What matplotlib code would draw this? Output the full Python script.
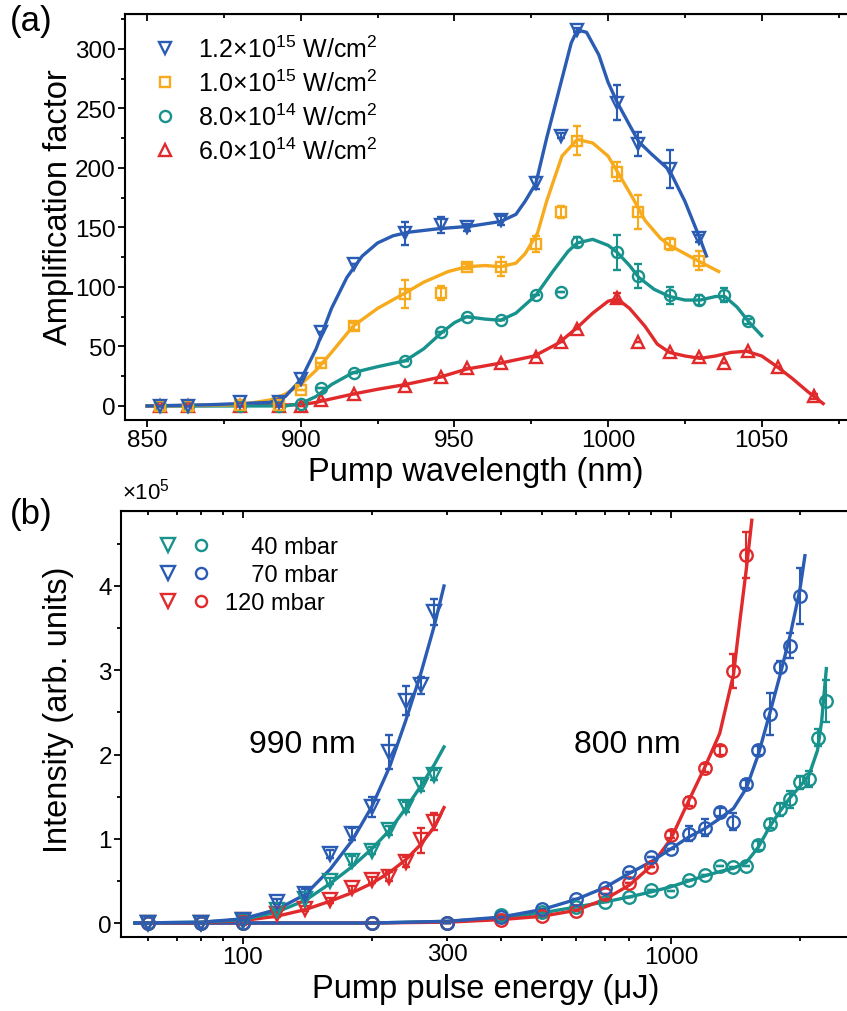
import numpy as np
import matplotlib
matplotlib.use("Agg")
import matplotlib.pyplot as plt
from matplotlib.ticker import MultipleLocator, FixedLocator, NullFormatter, FixedFormatter
from matplotlib.lines import Line2D
from matplotlib.legend_handler import HandlerTuple

plt.rcParams['font.family'] = ['Liberation Sans', 'DejaVu Sans']
plt.rcParams['mathtext.fontset'] = 'custom'
plt.rcParams['mathtext.rm'] = 'Liberation Sans'
plt.rcParams['mathtext.it'] = 'Liberation Sans:italic'
plt.rcParams['mathtext.default'] = 'regular'

BLUE = '#2b5cb3'
ORANGE = '#f6aa1c'
TEAL = '#17928d'
RED = '#e02a2b'

# ---------------- panel (a) data ----------------
wl_blue = [854.3, 863.3, 880.2, 893, 900, 906.6, 917.2, 934, 945.7, 954, 965, 976.5, 984.6, 990, 1003, 1009.7, 1020, 1029.6]
amp_blue = [0, 0, 3, 3, 23, 62, 119, 145, 152, 150, 156, 187, 227, 316, 255, 220, 199, 141]
err_blue = [0, 0, 0, 3, 0, 0, 0, 10, 7, 3, 4, 5, 2, 2, 15, 10, 16, 3]

wl_orange = [854.3, 863.3, 880.2, 893, 900, 906.6, 917.2, 934, 945.7, 954, 965, 976.5, 984.6, 990, 1003, 1009.7, 1020, 1029.6]
amp_orange = [0, 0, 1, 1, 13, 36, 67, 94, 95, 117, 117, 136, 163, 223, 197, 163, 136, 122]
err_orange = [0, 0, 0, 0, 0, 0, 3, 12, 6, 2, 8, 7, 5, 12, 8, 14, 5, 8]

wl_teal = [854.3, 863.3, 880.2, 893, 900, 906.6, 917.2, 934, 945.7, 954, 965, 976.5, 984.6, 990, 1003, 1009.7, 1020, 1029.6, 1037.8, 1045.4]
amp_teal = [0, 0, 0, 0, 2, 15, 28, 38, 62, 75, 72, 93, 96, 138, 129, 109, 93, 89, 93, 71]
err_teal = [0, 0, 0, 0, 0, 0, 0, 0, 0, 0, 0, 0, 0, 4, 15, 10, 7, 4, 6, 2]

wl_red = [854.3, 863.3, 880.2, 893, 900, 906.6, 917.2, 934, 945.7, 954, 965, 976.5, 984.6, 990, 1003, 1009.7, 1020, 1029.6, 1037.8, 1045.4, 1055.4, 1067]
amp_red = [0, 0, 0, 0, 0, 5, 10, 17, 24, 32, 36, 41, 54, 65, 91, 54, 45, 41, 36, 46, 33, 8]
err_red = [0, 0, 0, 0, 0, 0, 0, 0, 0, 0, 0, 0, 0, 0, 4, 0, 0, 0, 0, 0, 0, 2]

# fitted curves
fit_blue_x = [850, 870, 880, 890, 895, 900, 905, 910, 915, 920, 925, 930, 935, 945, 955, 965, 970, 973, 976.5, 980, 985, 988, 990, 993, 997, 1000, 1003, 1007, 1010, 1014, 1020, 1025, 1030, 1032]
fit_blue_y = [0, 1, 2, 3, 8, 22, 48, 82, 108, 126, 137, 143, 146, 149, 151, 155, 161, 172, 187, 225, 275, 305, 316, 314, 295, 272, 255, 236, 222, 212, 198, 172, 140, 126]
fit_orange_x = [850, 880, 890, 895, 900, 905, 910, 917, 925, 934, 940, 948, 954, 960, 965, 970, 973, 977, 980, 985, 990, 995, 1000, 1003, 1008, 1012, 1017, 1020, 1025, 1030, 1036]
fit_orange_y = [0, 1, 5, 10, 18, 30, 45, 67, 82, 95, 104, 113, 117, 118, 117, 120, 128, 145, 172, 210, 224, 221, 210, 197, 175, 156, 141, 135, 128, 121, 113]
fit_teal_x = [850, 895, 900, 905, 910, 917, 925, 934, 940, 946, 950, 954, 960, 965, 970, 976.5, 982, 987, 990, 995, 1000, 1003, 1007, 1010, 1015, 1020, 1025, 1030, 1035, 1038, 1042, 1046, 1050]
fit_teal_y = [0, 0, 2, 8, 18, 28, 33, 38, 48, 62, 70, 75, 73, 72, 78, 93, 113, 130, 137, 140, 135, 129, 118, 108, 98, 92, 89, 89, 92, 92, 83, 70, 59]
fit_red_x = [850, 900, 905, 910, 917, 925, 934, 945, 954, 965, 976, 984, 990, 995, 1000, 1003, 1007, 1012, 1016, 1020, 1025, 1030, 1035, 1040, 1045, 1050, 1055, 1060, 1065, 1070]
fit_red_y = [0, 1, 3, 6, 10, 14, 18, 24, 31, 36, 42, 53, 66, 78, 88, 90, 82, 67, 52, 45, 42, 40, 42, 45, 46, 42, 33, 23, 12, 2]

labels_a = [r'1.2×10$^{15}$ W/cm$^{2}$', r'1.0×10$^{15}$ W/cm$^{2}$',
            r'8.0×10$^{14}$ W/cm$^{2}$', r'6.0×10$^{14}$ W/cm$^{2}$']

# ---------------- panel (b) data (intensity in 1e5) ----------------
e990 = [60, 80, 100, 120, 140, 160, 180, 200, 220, 240, 260, 280]
i990_teal = [0, 0, 0.02, 0.15, 0.28, 0.5, 0.74, 0.86, 1.1, 1.38, 1.64, 1.76]
i990_blue = [0, 0, 0.03, 0.25, 0.35, 0.82, 1.06, 1.38, 2.03, 2.64, 2.82, 3.69]
i990_red = [0, 0, 0.03, 0.11, 0.17, 0.27, 0.41, 0.51, 0.55, 0.72, 0.98, 1.2]
d990_teal = [0, 0, 0, 0, 0.03, 0.04, 0.05, 0.04, 0.05, 0.06, 0.07, 0.06]
d990_blue = [0, 0, 0, 0.03, 0.05, 0.05, 0.07, 0.12, 0.2, 0.17, 0.1, 0.15]
d990_red = [0, 0, 0.05, 0.04, 0.03, 0.03, 0.03, 0.04, 0.05, 0.06, 0.15, 0.1]

e800 = [60, 80, 100, 200, 300, 400, 500, 600, 700, 800, 900, 1000, 1100, 1200, 1300, 1400, 1500, 1600, 1700, 1800, 1900, 2000, 2100, 2200, 2300]
i800_teal = [0, 0, 0, 0, 0, 0.09, 0.13, 0.19, 0.25, 0.31, 0.39, 0.38, 0.51, 0.57, 0.68, 0.67, 0.68, 0.92, 1.18, 1.35, 1.47, 1.67, 1.71, 2.2, 2.64]
i800_blue = [0, 0, 0, 0, 0, 0.07, 0.17, 0.29, 0.42, 0.61, 0.78, 0.88, 1.06, 1.13, 1.32, 1.2, 1.65, 2.05, 2.48, 3.04, 3.29, 3.88]
i800_red = [0, 0, 0, 0, 0, 0.04, 0.08, 0.14, 0.34, 0.47, 0.66, 1.05, 1.44, 1.84, 2.05, 2.99, 4.37]
d800_teal = [0, 0, 0, 0, 0, 0, 0, 0, 0, 0, 0, 0, 0, 0, 0, 0, 0, 0.05, 0.05, 0.08, 0.1, 0.08, 0.1, 0.1, 0.25]
d800_blue = [0, 0, 0, 0, 0, 0, 0, 0, 0, 0, 0, 0, 0.09, 0.1, 0.05, 0.1, 0.05, 0.05, 0.25, 0.07, 0.15, 0.33]
d800_red = [0, 0, 0, 0, 0, 0, 0, 0, 0, 0, 0, 0.04, 0.05, 0.05, 0.05, 0.2, 0.27]

fit990_x = [56, 80, 100, 120, 140, 160, 180, 200, 220, 240, 260, 280, 295]
fit990_blue = [0, 0.01, 0.05, 0.16, 0.34, 0.64, 0.98, 1.38, 1.85, 2.4, 2.95, 3.53, 4.0]
fit990_teal = [0, 0.01, 0.04, 0.13, 0.27, 0.47, 0.67, 0.88, 1.1, 1.36, 1.62, 1.88, 2.09]
fit990_red = [0, 0.005, 0.03, 0.08, 0.16, 0.26, 0.36, 0.47, 0.6, 0.75, 0.93, 1.14, 1.37]

fit800_blue_x = [56, 100, 200, 300, 400, 500, 600, 700, 800, 900, 1000, 1100, 1200, 1300, 1400, 1500, 1600, 1700, 1800, 1900, 2000, 2056]
fit800_blue_y = [0, 0, 0, 0.02, 0.07, 0.16, 0.28, 0.42, 0.59, 0.73, 0.88, 1.02, 1.12, 1.24, 1.36, 1.6, 2.0, 2.48, 2.95, 3.42, 3.95, 4.36]
fit800_red_x = [56, 100, 200, 300, 400, 500, 600, 700, 800, 900, 1000, 1100, 1200, 1300, 1400, 1450, 1500, 1545]
fit800_red_y = [0, 0, 0, 0.01, 0.04, 0.08, 0.15, 0.28, 0.45, 0.68, 1.0, 1.45, 1.85, 2.25, 2.95, 3.6, 4.2, 4.78]
fit800_teal_x = [56, 100, 200, 300, 400, 500, 600, 700, 800, 900, 1000, 1100, 1200, 1300, 1400, 1500, 1600, 1700, 1800, 1900, 2000, 2100, 2200, 2250, 2307]
fit800_teal_y = [0, 0, 0, 0.02, 0.06, 0.12, 0.19, 0.25, 0.31, 0.37, 0.43, 0.5, 0.56, 0.61, 0.65, 0.72, 0.9, 1.14, 1.33, 1.49, 1.62, 1.75, 2.05, 2.4, 3.02]

labels_b = ['\u2007\u200740 mbar', '\u2007\u200770 mbar', '120 mbar']

# ---------------- figure ----------------
fig = plt.figure(figsize=(8.47, 10.12), dpi=100)
W, H = 847.0, 1012.0
ax1 = fig.add_axes([125 / W, 1 - 421 / H, (849 - 125) / W, (421 - 15) / H])
ax2 = fig.add_axes([121 / W, 1 - 938 / H, (849 - 121) / W, (938 - 512) / H])

LW = 2.4
MS = 8
MEW = 1.7
TICKFS = 17.5
LABELFS = 23.5

def series(ax, x, y, e, fx, fy, color, marker, ms=MS):
    ax.plot(fx, fy, '-', color=color, lw=LW, zorder=2)
    ax.errorbar(x, y, yerr=e, fmt=marker, ms=ms, mfc='none', mec=color, mew=MEW,
                ecolor=color, elinewidth=1.5, capsize=3, capthick=1.5, zorder=3)

series(ax1, wl_red, amp_red, err_red, fit_red_x, fit_red_y, RED, '^')
series(ax1, wl_teal, amp_teal, err_teal, fit_teal_x, fit_teal_y, TEAL, 'o')
series(ax1, wl_orange, amp_orange, err_orange, fit_orange_x, fit_orange_y, ORANGE, 's', ms=7)
series(ax1, wl_blue, amp_blue, err_blue, fit_blue_x, fit_blue_y, BLUE, 'v')

ax1.set_xlim(842.8, 1078.4)
ax1.set_ylim(-11.8, 329.4)
ax1.xaxis.set_major_locator(MultipleLocator(50))
ax1.xaxis.set_minor_locator(MultipleLocator(25))
ax1.yaxis.set_major_locator(MultipleLocator(50))
ax1.yaxis.set_minor_locator(MultipleLocator(25))

handles_a = [Line2D([], [], ls='none', marker=m, ms=s, mfc='none', mec=c, mew=MEW)
             for m, c, s in zip(['v', 's', 'o', '^'], [BLUE, ORANGE, TEAL, RED], [MS, 7, MS, MS])]
ax1.legend(handles_a, labels_a, loc='upper left', bbox_to_anchor=(0.011, 0.99), frameon=False,
           fontsize=18, handlelength=1.2, handletextpad=0.7, labelspacing=0.3, borderaxespad=0.3)

ax1.set_xlabel('Pump wavelength (nm)', fontsize=LABELFS)
ax1.set_ylabel('Amplification factor', fontsize=LABELFS)

# panel b
for e, i, d, fx, fy, c in [
    (e800, i800_teal, d800_teal, fit800_teal_x, fit800_teal_y, TEAL),
    (e800, i800_red, d800_red, fit800_red_x, fit800_red_y, RED),
    (e800, i800_blue, d800_blue, fit800_blue_x, fit800_blue_y, BLUE),
]:
    n = len(i)
    series(ax2, e[:n], i, d, fx, fy, c, 'o', ms=9)

for i, d, fy, c in [
    (i990_red, d990_red, fit990_red, RED),
    (i990_teal, d990_teal, fit990_teal, TEAL),
    (i990_blue, d990_blue, fit990_blue, BLUE),
]:
    series(ax2, e990, i, d, fit990_x, fy, c, 'v', ms=10)

ax2.set_xscale('log')
ax2.set_xlim(51.9, 2606)
ax2.set_ylim(-0.166, 4.89)
ax2.xaxis.set_major_locator(FixedLocator([100, 1000]))
ax2.xaxis.set_major_formatter(FixedFormatter(['100', '1000']))
minor_b = [60, 70, 80, 90, 200, 300, 400, 500, 600, 700, 800, 900, 2000]
ax2.xaxis.set_minor_locator(FixedLocator(minor_b))
ax2.xaxis.set_minor_formatter(FixedFormatter(['300' if v == 300 else '' for v in minor_b]))
ax2.yaxis.set_major_locator(MultipleLocator(1))
ax2.yaxis.set_minor_locator(MultipleLocator(0.5))

handles_b = [(Line2D([], [], ls='none', marker='v', ms=10, mfc='none', mec=c, mew=MEW),
              Line2D([], [], ls='none', marker='o', ms=8, mfc='none', mec=c, mew=MEW))
             for c in [TEAL, BLUE, RED]]
ax2.legend(handles_b, labels_b, loc='upper left', bbox_to_anchor=(0.029, 0.985), frameon=False,
           fontsize=17, handler_map={tuple: HandlerTuple(ndivide=None, pad=0.8)},
           handlelength=2.0, handletextpad=0.7, labelspacing=0.25, borderaxespad=0.4)

ax2.text(138, 2.12, '990 nm', fontsize=23, ha='center', va='center')
ax2.text(789, 2.12, '800 nm', fontsize=23, ha='center', va='center')
ax2.set_xlabel('Pump pulse energy (μJ)', fontsize=LABELFS)
ax2.set_ylabel('Intensity (arb. units)', fontsize=LABELFS)

for ax in (ax1, ax2):
    for sp in ax.spines.values():
        sp.set_linewidth(1.5)
    ax.tick_params(which='both', direction='out', labelsize=TICKFS, width=1.3, pad=1.5,
                   top=False, right=False)
    ax.tick_params(which='major', length=5)
    ax.tick_params(which='minor', length=3)

ax1.xaxis.set_label_coords(0.485, -0.088)
ax1.yaxis.set_label_coords(-0.07, 0.527)
ax2.xaxis.set_label_coords(0.501, -0.085)
ax2.yaxis.set_label_coords(-0.064, 0.535)

sec = ax1.secondary_xaxis('top')
sec.xaxis.set_major_locator(MultipleLocator(50))
sec.xaxis.set_minor_locator(MultipleLocator(25))
sec.tick_params(which='both', direction='in', labeltop=False, width=1.3)
sec.tick_params(which='major', length=5)
sec.tick_params(which='minor', length=3)

sec2 = ax2.secondary_xaxis('top')
sec2.xaxis.set_major_locator(FixedLocator([100, 1000]))
sec2.xaxis.set_minor_locator(FixedLocator(minor_b))
sec2.xaxis.set_minor_formatter(NullFormatter())
sec2.tick_params(which='both', direction='in', labeltop=False, width=1.3)
sec2.tick_params(which='major', length=5)
sec2.tick_params(which='minor', length=3)
sec2.xaxis.set_major_formatter(NullFormatter())

fig.text(10 / W, 1 - 22 / H, '(a)', fontsize=25, ha='left', va='center')
fig.text(10 / W, 1 - 515 / H, '(b)', fontsize=25, ha='left', va='center')
fig.text(122 / W, 1 - 492 / H, r'×10$^{5}$', fontsize=16, ha='left', va='center')

fig.savefig('out.png', dpi=100)
